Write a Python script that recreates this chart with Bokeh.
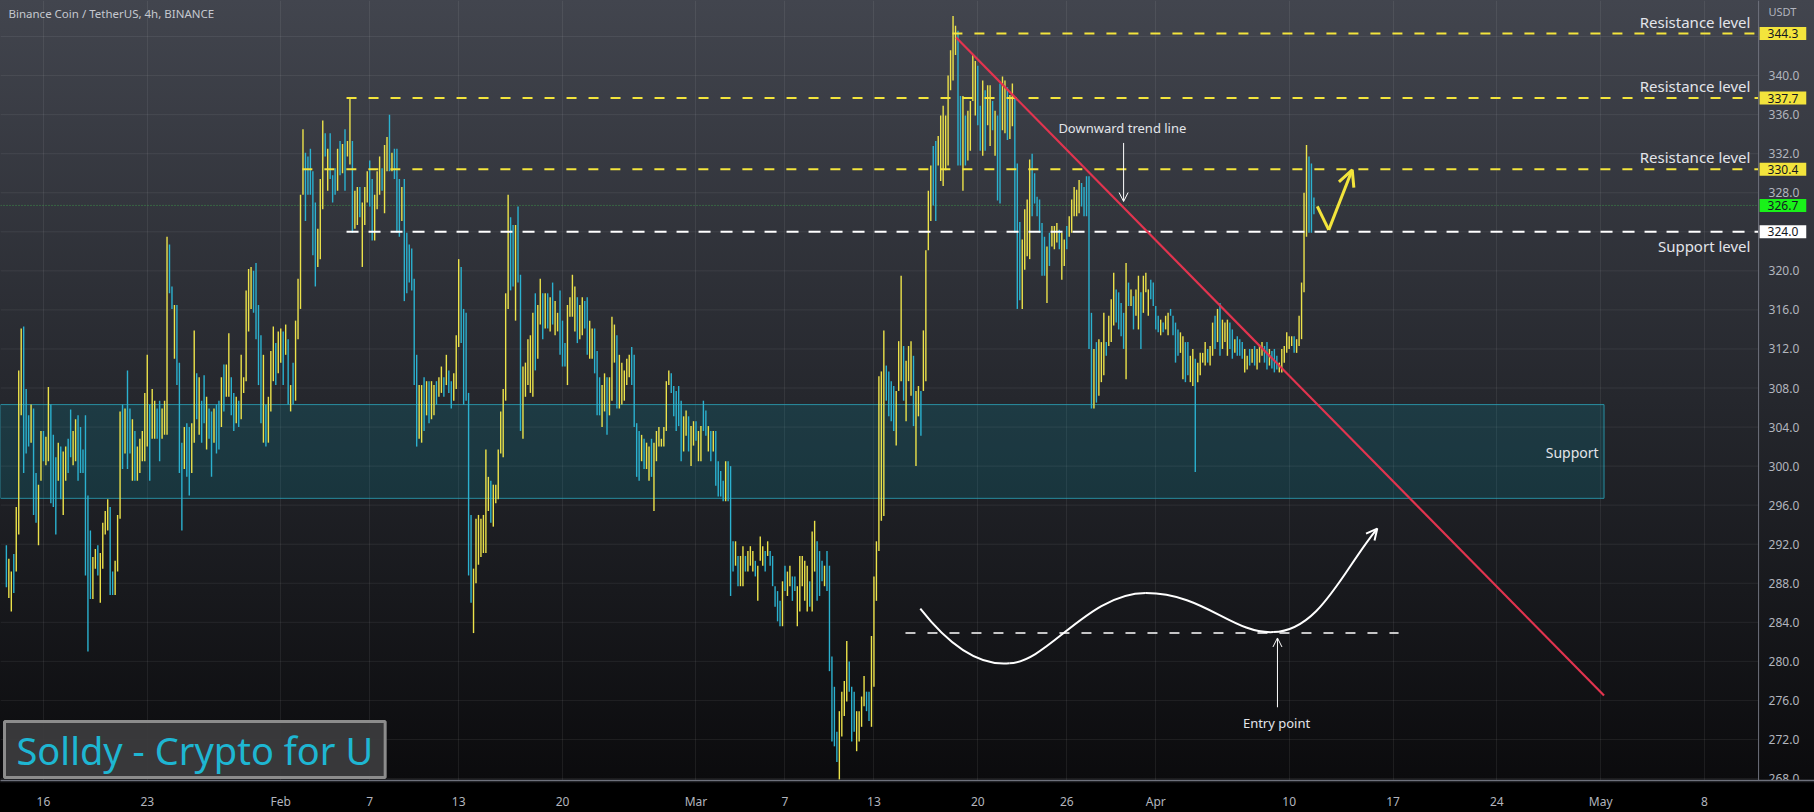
import pandas as pd
from bokeh.plotting import figure
from bokeh.models import (ColumnDataSource, Range1d, FixedTicker,
                          Label, BoxAnnotation, Arrow, OpenHead, Span)
from bokeh.core.properties import value
from bokeh.embed import file_html
from bokeh.resources import INLINE

# ---------------- data ----------------
EPOCH = pd.Timestamp("2023-01-01")
FIRST_CANDLE = "2023-01-13 12:00"
CANDLE_HOURS = 4

highs = [
    291.9, 290.5, 289.2, 291.0, 295.8, 309.8, 314.1, 314.3, 307.9, 305.2,
    306.3, 305.9, 299.3, 298.1, 303.6, 303.6, 303.0, 308.1, 306.3, 303.2,
    300.9, 302.4, 302.0, 301.5, 302.0, 302.8, 305.8, 303.6, 304.8, 305.2,
    304.0, 301.7, 305.2, 297.0, 293.4, 290.7, 291.5, 291.9, 291.1, 294.2,
    295.4, 296.6, 295.8, 289.2, 290.3, 295.0, 305.6, 306.3, 305.9, 309.8,
    305.9, 304.8, 303.6, 302.0, 302.8, 303.6, 307.5, 311.4, 306.3, 307.9,
    306.7, 305.9, 306.7, 305.9, 306.7, 323.5, 322.7, 318.4, 316.5, 316.5,
    310.6, 302.4, 304.0, 304.4, 304.0, 304.4, 313.9, 309.5, 309.1, 306.7,
    309.3, 307.1, 305.9, 305.6, 305.9, 306.3, 306.7, 309.1, 310.4, 310.4,
    313.6, 309.1, 307.5, 307.1, 306.7, 311.4, 309.1, 318.0, 320.2, 320.4,
    320.0, 320.8, 316.5, 313.4, 311.4, 306.3, 307.1, 311.8, 314.3, 312.6,
    313.8, 314.1, 313.8, 314.5, 313.0, 308.3, 310.6, 314.9, 319.2, 327.8,
    334.5, 332.1, 331.7, 332.5, 330.2, 327.0, 324.3, 329.4, 335.4, 334.1,
    332.5, 334.1, 329.8, 330.5, 332.5, 333.3, 333.0, 334.5, 333.3, 337.8,
    333.3, 328.2, 328.6, 328.6, 327.0, 328.6, 330.2, 331.3, 329.4, 327.8,
    330.2, 331.7, 330.5, 332.9, 333.7, 336.0, 332.1, 332.5, 332.5, 329.4,
    328.6, 329.4, 323.9, 322.7, 322.3, 319.2, 311.4, 308.3, 308.3, 309.1,
    308.7, 308.7, 308.7, 308.3, 308.7, 309.1, 310.2, 309.1, 311.4, 309.8,
    308.7, 309.5, 313.4, 321.2, 320.4, 316.1, 315.7, 307.5, 295.0, 289.5,
    294.6, 295.0, 294.6, 295.0, 301.7, 298.9, 298.5, 298.1, 298.1, 301.7,
    305.6, 307.9, 317.7, 327.8, 325.5, 324.7, 324.7, 326.6, 319.6, 310.2,
    310.6, 313.0, 313.4, 315.7, 317.7, 316.5, 319.2, 317.7, 317.7, 317.7,
    317.3, 318.8, 316.9, 315.7, 318.0, 314.9, 312.6, 316.5, 317.3, 319.6,
    318.4, 317.3, 316.5, 317.3, 316.9, 317.3, 314.9, 314.1, 314.1, 311.8,
    309.1, 308.3, 309.5, 309.1, 309.1, 315.3, 314.5, 313.4, 311.4, 310.6,
    309.8, 311.0, 311.4, 312.2, 311.4, 304.4, 303.6, 303.2, 302.8, 302.4,
    302.0, 302.8, 302.4, 303.6, 304.0, 302.8, 304.0, 308.7, 309.8, 309.5,
    308.2, 307.7, 308.2, 306.7, 305.1, 305.7, 305.1, 304.1, 304.6, 304.6,
    303.6, 304.1, 306.7, 305.7, 304.1, 303.6, 303.6, 303.6, 300.5, 299.5,
    298.5, 300.5, 300.5, 300.0, 292.3, 292.3, 290.8, 290.8, 291.8, 290.8,
    291.3, 291.8, 291.3, 290.3, 289.8, 292.8, 291.8, 291.3, 292.3, 291.3,
    290.8, 287.7, 287.2, 286.2, 288.2, 289.8, 289.2, 289.8, 288.7, 288.7,
    287.7, 290.8, 290.8, 290.3, 289.8, 288.2, 293.3, 294.4, 292.3, 291.3,
    290.3, 289.8, 291.3, 289.8, 280.5, 277.4, 272.8, 274.9, 276.9, 278.0,
    282.1, 280.0, 277.4, 276.9, 274.9, 274.9, 276.4, 278.5, 276.9, 276.9,
    282.6, 288.7, 292.3, 309.2, 309.7, 313.9, 310.3, 309.7, 308.7, 308.2,
    307.7, 312.8, 319.5, 312.3, 310.8, 312.3, 312.8, 311.3, 307.7, 308.2,
    307.7, 313.9, 322.1, 328.2, 330.8, 332.8, 333.3, 333.8, 335.9, 336.9,
    335.9, 340.0, 342.6, 346.1, 345.1, 344.6, 337.9, 337.9, 335.9, 336.4,
    337.4, 342.1, 341.5, 341.0, 336.9, 339.5, 338.5, 339.0, 339.0, 337.4,
    336.4, 335.9, 339.2, 339.9, 339.5, 338.8, 338.0, 339.2, 337.8, 331.0,
    325.0, 323.2, 326.3, 327.3, 331.4, 332.0, 330.0, 327.6, 327.3, 324.9,
    323.5, 322.5, 323.9, 324.6, 324.6, 324.9, 324.2, 323.9, 323.2, 324.6,
    325.6, 327.3, 328.6, 328.3, 329.3, 329.0, 328.6, 329.7, 329.7, 315.7,
    312.0, 312.7, 313.0, 312.7, 315.7, 312.7, 315.4, 317.1, 319.8, 318.1,
    317.8, 316.7, 315.7, 320.8, 318.8, 318.1, 317.4, 318.1, 319.5, 317.8,
    319.5, 319.8, 318.1, 319.1, 318.8, 316.4, 315.4, 315.0, 314.7, 315.4,
    315.7, 316.1, 315.4, 314.7, 314.0, 313.7, 313.3, 312.7, 312.7, 311.3,
    312.0, 311.0, 310.6, 311.6, 311.6, 312.7, 312.0, 312.3, 314.7, 315.4,
    316.1, 316.7, 315.0, 314.7, 315.0, 314.7, 314.0, 313.0, 313.3, 313.0,
    312.7, 312.0, 311.3, 312.0, 312.0, 312.3, 312.0, 312.3, 312.7, 312.3,
    312.7, 312.0, 311.8, 312.0, 311.3, 310.6, 312.0, 312.3, 313.7, 313.3,
    313.3, 313.3, 313.0, 315.4, 318.8, 328.0, 332.9, 331.7, 331.0, 327.5,
]

lows = [
    287.6, 286.5, 285.1, 287.0, 289.2, 293.0, 305.2, 299.3, 301.3, 302.0,
    302.4, 295.0, 294.2, 291.9, 298.5, 300.5, 300.1, 300.5, 296.2, 295.8,
    293.0, 298.5, 296.6, 295.0, 298.5, 299.3, 300.9, 300.1, 300.5, 298.5,
    299.3, 299.3, 288.8, 281.0, 286.4, 286.4, 289.5, 288.8, 286.0, 289.5,
    293.0, 293.4, 286.8, 286.8, 286.8, 289.2, 294.6, 299.7, 301.3, 299.7,
    301.3, 298.5, 298.5, 298.5, 299.3, 300.5, 300.5, 302.0, 298.5, 302.8,
    302.8, 302.8, 300.5, 302.8, 303.2, 303.2, 317.7, 316.1, 311.0, 308.3,
    299.3, 293.4, 299.7, 298.9, 297.0, 299.3, 302.4, 304.8, 303.2, 302.4,
    304.4, 301.7, 302.8, 298.9, 302.4, 301.3, 301.7, 304.0, 305.6, 307.1,
    307.1, 305.2, 303.6, 304.4, 304.0, 304.8, 307.5, 308.7, 313.8, 316.1,
    315.7, 313.0, 308.3, 304.4, 302.4, 302.0, 302.4, 305.6, 308.7, 308.3,
    309.5, 310.6, 308.3, 311.4, 306.3, 305.6, 306.3, 306.7, 313.0, 316.1,
    327.8, 325.1, 327.8, 327.8, 321.6, 318.4, 320.4, 321.2, 326.3, 331.7,
    328.2, 329.4, 327.0, 327.8, 328.2, 329.8, 330.0, 328.2, 331.7, 330.9,
    323.9, 324.3, 324.7, 325.5, 320.4, 324.7, 327.0, 326.6, 323.1, 323.1,
    326.3, 327.8, 328.2, 325.9, 330.2, 330.2, 330.2, 329.4, 323.9, 323.5,
    325.1, 316.9, 317.7, 318.8, 318.0, 308.3, 302.0, 302.8, 302.4, 303.6,
    305.2, 304.4, 304.8, 305.2, 306.3, 307.1, 307.5, 307.1, 308.3, 307.5,
    305.9, 306.7, 307.9, 312.2, 312.6, 306.3, 306.7, 288.8, 286.0, 282.9,
    288.0, 289.9, 290.7, 291.1, 291.1, 295.4, 294.2, 293.8, 296.2, 296.6,
    301.3, 300.9, 306.7, 316.1, 318.0, 318.4, 314.9, 318.8, 303.6, 302.8,
    307.1, 308.3, 307.5, 307.1, 309.8, 311.0, 314.5, 313.0, 314.1, 314.1,
    313.8, 314.5, 313.4, 313.8, 311.4, 310.2, 310.2, 308.3, 315.3, 315.3,
    313.8, 312.6, 313.0, 313.4, 314.1, 311.4, 311.0, 311.0, 309.5, 305.2,
    305.2, 304.0, 305.6, 303.2, 305.2, 306.7, 310.6, 305.9, 305.9, 306.3,
    306.7, 308.3, 309.1, 308.3, 304.0, 298.9, 298.5, 300.5, 299.7, 299.7,
    298.5, 298.9, 295.4, 300.5, 302.0, 302.0, 302.0, 303.6, 308.3, 307.5,
    305.1, 303.6, 304.1, 300.5, 301.5, 303.1, 301.5, 300.0, 302.1, 302.6,
    300.5, 300.5, 303.6, 303.1, 301.5, 300.5, 301.5, 298.0, 296.9, 296.9,
    296.4, 296.4, 296.4, 286.7, 289.2, 289.8, 287.7, 287.7, 287.7, 289.2,
    289.2, 289.8, 289.2, 288.7, 286.2, 290.3, 289.8, 289.2, 290.8, 289.8,
    287.7, 285.6, 284.1, 283.6, 283.6, 287.2, 286.7, 287.7, 286.2, 287.2,
    283.6, 285.1, 287.7, 286.2, 285.1, 285.6, 285.1, 289.2, 286.2, 286.7,
    288.2, 287.7, 287.2, 279.0, 271.8, 271.3, 269.7, 267.9, 272.3, 274.4,
    275.9, 276.9, 271.8, 272.8, 270.8, 271.8, 273.3, 275.4, 274.9, 273.9,
    273.3, 277.4, 286.2, 291.3, 294.4, 294.9, 306.7, 305.1, 304.6, 303.6,
    302.1, 307.7, 308.7, 306.7, 304.6, 308.7, 307.2, 304.1, 300.0, 305.1,
    303.1, 307.7, 308.7, 322.1, 325.1, 326.7, 325.1, 330.8, 329.2, 328.7,
    330.3, 330.8, 338.5, 339.5, 342.1, 330.8, 330.8, 328.2, 330.8, 331.3,
    332.3, 337.4, 335.9, 334.9, 332.3, 331.8, 332.3, 334.9, 332.8, 334.4,
    331.8, 327.2, 326.9, 334.4, 334.1, 333.4, 333.5, 334.8, 323.9, 316.1,
    317.0, 316.1, 320.1, 321.5, 321.2, 325.6, 326.9, 325.6, 323.9, 319.5,
    319.5, 316.7, 320.5, 322.5, 322.2, 322.9, 322.2, 319.1, 320.5, 322.2,
    323.5, 323.9, 325.6, 325.6, 325.9, 326.6, 325.6, 325.6, 312.0, 305.9,
    305.9, 306.5, 307.2, 308.6, 309.3, 311.3, 312.3, 312.7, 314.4, 314.7,
    314.0, 313.3, 312.0, 308.9, 316.4, 316.4, 314.0, 315.4, 314.0, 312.0,
    315.7, 317.8, 315.4, 317.1, 316.4, 314.0, 313.7, 313.4, 313.7, 314.0,
    313.4, 315.4, 313.4, 310.6, 311.3, 311.6, 308.9, 308.6, 309.3, 308.6,
    308.2, 299.4, 308.6, 309.3, 310.6, 310.3, 310.6, 310.3, 311.3, 312.0,
    312.7, 311.3, 312.0, 312.7, 311.3, 312.0, 311.0, 311.6, 311.3, 311.3,
    311.0, 309.6, 309.9, 310.3, 310.6, 310.3, 309.9, 310.6, 311.3, 310.6,
    309.9, 310.3, 310.0, 309.6, 309.9, 309.6, 309.6, 310.6, 311.6, 312.0,
    312.3, 311.6, 311.6, 312.3, 313.0, 317.8, 323.5, 323.9, 323.9, 325.8,
]

# 'u' = candle closed up (yellow), 'd' = closed down (cyan)
directions = "".join([
    "duuduuuddd", "udduuduudd", "duduudduud", "ddddduuduu", "uudduuudud",
    "duduuuuudu", "udduuuddud", "ddudduudud", "dudduddudu", "udduduuuuu",
    "dddduduuud", "uudududuuu", "uddddduuud", "udddududuu", "duuduuuddu",
    "uuduududdd", "udddddduud", "uduuduudud", "duuudddddu", "uuuuuuduuu",
    "uuuudduddu", "uuuuduudud", "uduuddduuu", "uduudduudd", "duuduuuduu",
    "uuuddddudu", "uduuuuuuud", "dddduuduud", "uuddududdd", "duddduduud",
    "uuuduuudud", "dddduduudd", "uuuuuduudd", "duddddduuu", "uddduuuudd",
    "uuuuuudddd", "uuuduuuduu", "duuuudduuu", "uuuuuddudu", "uuudduduud",
    "udduuduudd", "duuuuddddd", "duduuuduud", "uuuuuddddd", "uduuuduuud",
    "dddududuud", "uuuddddudu", "udddduuddu", "uduuuuduud", "uduuuddudd",
    "duududuuud", "duddduuuuu", "uduuuuuddd",
])

last_price = 326.7
price_tick_values = list(range(268, 344, 4))
grid_price_values = list(range(268, 348, 4))
date_ticks = ["2023-01-16", "2023-01-23", "2023-02-01", "2023-02-07", "2023-02-13",
              "2023-02-20", "2023-03-01", "2023-03-07", "2023-03-13", "2023-03-20",
              "2023-03-26", "2023-04-01", "2023-04-10", "2023-04-17", "2023-04-24",
              "2023-05-01", "2023-05-08"]
date_labels = ["16", "23", "Feb", "7", "13", "20", "Mar", "7", "13", "20", "26",
               "Apr", "10", "17", "24", "May", "8"]

resistance_prices = [344.3, 337.7, 330.4]
resistance_starts = ["2023-03-18 07:00", "2023-02-05 10:30", "2023-02-02 11:00"]
support_price = 324.0
support_start = "2023-02-05 10:30"
zone_top, zone_bottom, zone_end = 306.3, 296.7, "2023-05-01 05:30"
trend_dates = ["2023-03-18 13:00", "2023-05-01 05:30"]
trend_prices = [343.9, 276.5]
entry_price = 282.9
entry_dates = ["2023-03-15 03:00", "2023-04-17 09:00"]

# hand-drawn wave (cubic bezier pieces): start, control 1, control 2, end
wave_dates = [["2023-03-16 03:00", "2023-03-18 02:00", "2023-03-20 01:00", "2023-03-22 03:00"],
              ["2023-03-22 03:00", "2023-03-24 17:00", "2023-03-27 10:30", "2023-03-31 08:00"],
              ["2023-03-31 08:00", "2023-04-04 06:00", "2023-04-06 04:30", "2023-04-08 22:00"],
              ["2023-04-08 22:00", "2023-04-12 01:00", "2023-04-13 14:30", "2023-04-15 22:30"]]
wave_prices = [[285.4, 281.6, 279.5, 279.8],
               [279.8, 279.9, 287.0, 287.0],
               [287.0, 287.0, 282.8, 283.0],
               [283.0, 283.1, 289.3, 293.6]]
zig_dates = ["2023-04-11 21:30", "2023-04-12 16:00", "2023-04-14 06:00"]
zig_prices = [326.6, 324.2, 330.35]

# ---------------- helpers ----------------
def day(s):
    return (pd.Timestamp(s) - EPOCH) / pd.Timedelta(days=1)

n = min(len(highs), len(lows), len(directions))
t0 = day(FIRST_CANDLE)
times = [t0 + i * CANDLE_HOURS / 24.0 for i in range(n)]
UP, DOWN = "#ece24a", "#2bb1cf"
colors = [UP if directions[i] == "u" else DOWN for i in range(n)]
src = ColumnDataSource(dict(t=times, high=highs[:n], low=lows[:n], color=colors))

# view window (time axis spans the whole width; price scale sits at its right end)
X0 = day("2023-01-13 02:30")
X1 = day("2023-05-15 10:05")
SEP = day("2023-05-11 15:36")       # left edge of the price scale
PX_DAY = 1814.0 / (X1 - X0)
Y0, Y1 = 267.8, 347.69
FONT = "Noto Sans"
AXIS_TXT = "#b2b5be"

p = figure(width=1814, height=812, x_range=Range1d(X0, X1), y_range=Range1d(Y0, Y1),
           y_axis_location=None, toolbar_location=None, output_backend="svg",
           min_border_left=0, min_border_top=0, min_border_right=0, min_border_bottom=29,
           background_fill_alpha=0, border_fill_alpha=0, outline_line_color=None)
p.styles = {"background": "linear-gradient(180deg, #42454e 0px, #25272d 400px, "
                          "#0b0b0d 783px, #000000 783px, #000000 812px)"}

tick_days = [day(d) for d in date_ticks]
p.xaxis.ticker = FixedTicker(ticks=tick_days)
p.xaxis.major_label_overrides = {td: lab for td, lab in zip(tick_days, date_labels)}
p.xaxis.major_label_text_color = AXIS_TXT
p.xaxis.major_label_text_font_size = "12px"
p.xaxis.major_label_text_font = FONT
p.xaxis.major_tick_line_color = None
p.xaxis.minor_tick_line_color = None
p.xaxis.axis_line_color = "#6e717c"
p.xaxis.axis_line_width = 1.5
p.xaxis.major_label_standoff = 6

p.xgrid.ticker = FixedTicker(ticks=tick_days)
p.xgrid.grid_line_color = "#ffffff"
p.xgrid.grid_line_alpha = 0.07
p.ygrid.grid_line_color = None

# horizontal grid, stopping at the price scale
p.segment(x0=[X0] * len(grid_price_values), y0=grid_price_values,
          x1=[SEP] * len(grid_price_values), y1=grid_price_values,
          line_color="#ffffff", line_alpha=0.07, line_width=1)

# price scale: separator + labels
p.add_layout(Span(location=SEP, dimension="height", line_color="#6e717c", line_width=1))
p.text(x=[SEP + 10 / PX_DAY] * len(price_tick_values), y=price_tick_values,
       text=[f"{v:.1f}" for v in price_tick_values], text_font=value(FONT),
       text_font_size="12px", text_color=AXIS_TXT, text_align="left", text_baseline="middle")

# support zone
p.add_layout(BoxAnnotation(right=day(zone_end), top=zone_top, bottom=zone_bottom,
                           fill_color="#00a0b8", fill_alpha=0.17,
                           line_color="#2aa6bd", line_alpha=0.8, line_width=1, level="underlay"))

# last price dotted line
p.segment(x0=[X0], y0=[last_price], x1=[SEP], y1=[last_price], line_color="#3f9b4a",
          line_dash="1 2", line_width=1, line_alpha=0.9)

# candles
p.segment(x0="t", y0="low", x1="t", y1="high", line_color="color", line_width=1.4, source=src)

# level lines
p.segment(x0=[day(s) for s in resistance_starts], y0=resistance_prices,
          x1=[SEP] * len(resistance_prices), y1=resistance_prices,
          line_color="#f3e43c", line_width=2, line_dash="10 12")
p.segment(x0=[day(support_start)], y0=[support_price], x1=[SEP], y1=[support_price],
          line_color="#ffffff", line_width=2, line_dash="12 10")
p.segment(x0=[day(entry_dates[0])], y0=[entry_price], x1=[day(entry_dates[1])], y1=[entry_price],
          line_color="#ffffff", line_width=1.6, line_dash="10 12")

# trend line
p.line([day(d) for d in trend_dates], trend_prices, line_color="#e2344f", line_width=2.2)

# wave curve
p.bezier(x0=[day(w[0]) for w in wave_dates], y0=[w[0] for w in wave_prices],
         cx0=[day(w[1]) for w in wave_dates], cy0=[w[1] for w in wave_prices],
         cx1=[day(w[2]) for w in wave_dates], cy1=[w[2] for w in wave_prices],
         x1=[day(w[3]) for w in wave_dates], y1=[w[3] for w in wave_prices],
         line_color="#ffffff", line_width=2)
ex, ey = day(wave_dates[-1][3]), wave_prices[-1][3]
cx, cy = day(wave_dates[-1][2]), wave_prices[-1][2]
p.add_layout(Arrow(end=OpenHead(size=11, line_color="#ffffff", line_width=2),
                   x_start=ex - 0.1 * (ex - cx), y_start=ey - 0.1 * (ey - cy),
                   x_end=ex, y_end=ey, line_color="#ffffff", line_width=2))

# yellow zigzag arrow
zx = [day(d) for d in zig_dates]
p.line(zx[:2], zig_prices[:2], line_color="#f3e43c", line_width=3)
p.add_layout(Arrow(end=OpenHead(size=16, line_color="#f3e43c", line_width=3),
                   x_start=zx[1], y_start=zig_prices[1], x_end=zx[2], y_end=zig_prices[2],
                   line_color="#f3e43c", line_width=3))

# annotation arrows
p.add_layout(Arrow(end=OpenHead(size=9, line_color="#ffffff", line_width=1),
                   x_start=day("2023-03-29 20:00"), y_start=333.1,
                   x_end=day("2023-03-29 20:00"), y_end=327.1,
                   line_color="#ffffff", line_width=1))
p.add_layout(Arrow(end=OpenHead(size=9, line_color="#ffffff", line_width=1),
                   x_start=day("2023-04-09 05:00"), y_start=275.3,
                   x_end=day("2023-04-09 05:00"), y_end=282.4,
                   line_color="#ffffff", line_width=1))

TXT = "#e3e5ea"
def note(x, y, text, size="15px", align="right"):
    p.add_layout(Label(x=x, y=y, text=text, text_font=FONT, text_font_size=size,
                       text_color=TXT, text_align=align, text_baseline="middle"))

note(130.1, 345.5, "Resistance level")
note(130.1, 338.9, "Resistance level")
note(130.1, 331.7, "Resistance level")
note(130.1, 322.5, "Support level")
note(119.86, 301.4, "Support", size="14px")
note(day("2023-03-29 18:00"), 334.6, "Downward trend line", size="13px", align="center")
note(day("2023-04-09 03:30"), 273.65, "Entry point", size="13px", align="center")

# price tags on the scale
def tag(price, bg, txt="#131722"):
    p.add_layout(Label(x=SEP + 1 / PX_DAY, y=price, text=f"{price:.1f}", text_font=FONT,
                       text_font_size="12px", text_color=txt, text_align="left",
                       text_baseline="middle", background_fill_color=bg, padding=(8, 2)))

for pr in resistance_prices:
    tag(pr, "#f3e43c")
tag(last_price, "#19f219")
tag(support_price, "#ffffff")

p.add_layout(Label(x=1768, y=769, x_units="screen", y_units="screen", text="USDT",
                   text_font=FONT, text_font_size="11px", text_color=AXIS_TXT,
                   text_align="left", text_baseline="middle"))
p.add_layout(Label(x=8, y=767, x_units="screen", y_units="screen",
                   text="Binance Coin / TetherUS, 4h, BINANCE", text_font=FONT,
                   text_font_size="11.5px", text_color="#c5c8cf",
                   text_align="left", text_baseline="middle"))
p.add_layout(Label(x=4, y=3, x_units="screen", y_units="screen",
                   text="Solldy - Crypto for U", text_font=FONT, text_font_size="38px",
                   text_color="#1eb6d2", text_align="left", text_baseline="bottom",
                   background_fill_color="#3b3b3d", background_fill_alpha=0.95,
                   border_line_color="#8c8c8c", border_line_width=3, padding=(12, 2)))

open("out.html", "w").write(file_html(p, INLINE))
